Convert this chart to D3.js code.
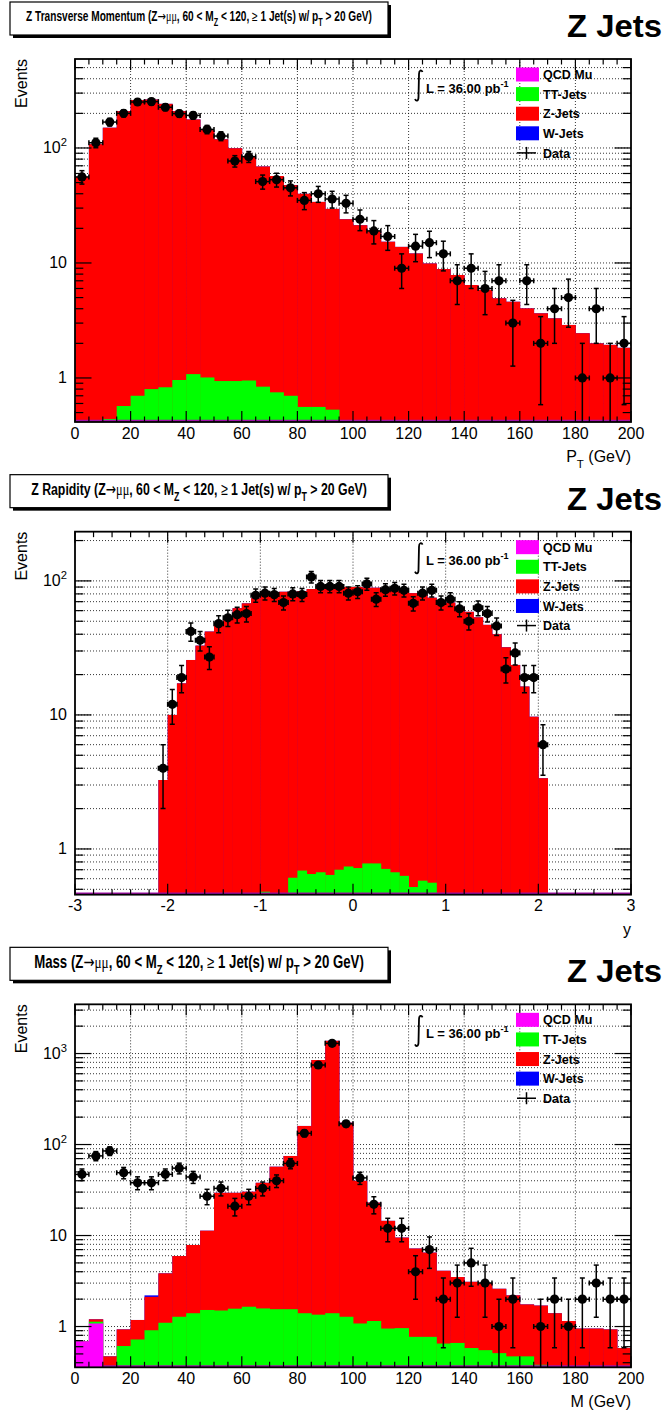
<!DOCTYPE html>
<html>
<head>
<meta charset="utf-8">
<script src="https://cdn.jsdelivr.net/npm/d3@7/dist/d3.min.js"></script>
<style>
  html, body { margin: 0; padding: 0; background: #fff; }
  svg { display: block; }
</style>
</head>
<body>
<svg id="chart" width="664" height="1418"></svg>
<script>
// ---------- Z transverse momentum, 5 GeV bins ----------
const ptBinLow = [0,5,10,15,20,25,30,35,40,45,50,55,60,65,70,75,80,85,90,95,
                  100,105,110,115,120,125,130,135,140,145,150,155,160,165,170,175,180,185,190,195];
const ptData   = [56,111,168,200,251,253,226,199,192,145,127,77,84,51,53,45,35,40,36,33,
                  24,19,17,9,14,15,12,7,9,6,7,3,7,2,4,5,1,4,1,2];
const ptZJets  = [56,108,149.6,208.4,260.3,263.2,241.2,208,175.9,142,118.1,98.6,84.1,68.2,56.3,46.8,39.4,33.4,29,24,
                  21.3,19,15.3,13.8,12.1,9.9,8.85,7.86,6.43,5.83,4.93,4.6,4.03,3.65,3.3,2.89,2.45,2.0,1.94,1.83];
const ptTTJets = [0,0,0.44,0.57,0.70,0.80,0.83,0.96,1.08,1.01,0.94,0.94,0.95,0.84,0.75,0.70,0.56,0.56,0.53,0];
const ptQCDMu  = [];   // no QCD entries in this distribution
const ptWJets  = [];
const ptTicks  = [0,20,40,60,80,100,120,140,160,180,200];

// ---------- Z rapidity, 0.1 bins ----------
const rapBinLow = [-2.1,-2.0,-1.9,-1.8,-1.7,-1.6,-1.5,-1.4,-1.3,-1.2,-1.1,-1.0,-0.9,-0.8,-0.7,-0.6,-0.5,-0.4,-0.3,-0.2,-0.1,
                   0.0,0.1,0.2,0.3,0.4,0.5,0.6,0.7,0.8,0.9,1.0,1.1,1.2,1.3,1.4,1.5,1.6,1.7,1.8,1.9,2.0];
const rapData   = [4,12,19,42,36,27,48,53,56,57,78,81,79,69,80,79,107,91,91,91,81,
                   83,95,73,86,88,85,68,81,85,69,73,62,50,63,57,46,22,29,19,19,6];
const rapZJets  = [3.27,10.0,17.2,25.7,32.9,41.9,48.3,54.2,62.6,68,74.3,80.5,82,83,82.4,83.3,86.3,87.3,87.4,89.3,89.3,
                   89.3,88.2,88.2,87.3,84.0,82.4,80.5,77.9,74.4,72,69,64,58.8,53.5,47,40,32,23.6,16.3,9.7,3.37];
const rapTTJets = [0,0,0,0,0,0,0,0,0,0,0,0.48,0,0,0.61,0.69,0.65,0.67,0.64,0.70,0.74,
                   0.72,0.78,0.78,0.71,0.67,0.63,0.52,0.58,0.56,0];
const rapQCDMu  = [];
const rapWJets  = [];
const rapTicks  = [-3,-2,-1,0,1,2,3];

// ---------- dimuon mass, 5 GeV bins ----------
const massBinLow = [0,5,10,15,20,25,30,35,40,45,50,55,60,65,70,75,80,85,90,95,
                    100,105,110,115,120,125,130,135,140,145,150,155,160,165,170,175,180,185,190,195];
const massData   = [47,75,85,49,38,38,47,55,44,27,33,21,27,33,40,62,133,748,1294,169,
                    43,22,12,12,4,7,2,3,5,3,1,2,0,1,2,1,2,3,2,2];
const massZJets  = [0,0.07,0.47,0.32,0.46,1.21,2.74,4.67,6.47,9.78,28.0,27.9,28.65,36.4,55.5,73.3,158.6,847.6,1378.6,172.7,
                    38.9,21.85,13.55,8.54,6.43,5.73,3.45,2.84,2.52,2.45,2.09,1.73,1.28,1.32,1.4,1.15,0.95,0.95,0.93,0.58];
const massTTJets = [0,0.05,0,0.61,0.72,0.91,1.1,1.28,1.4,1.52,1.5,1.57,1.65,1.58,1.55,1.55,1.4,1.35,1.4,1.28,
                    1.08,1.15,0.95,0.96,0.77,0.77,0.65,0.66,0.58,0.55,0.51,0.47,0.47,0.38,0,0,0,0,0,0];
const massQCDMu  = [0.69,1.08];
const massWJets  = [0,0,0,0,0,0.08];
const massTicks  = [0,20,40,60,80,100,120,140,160,180,200];

// ---------- shared labels ----------
const legendLabels = ['QCD Mu', 'TT-Jets', 'Z-Jets', 'W-Jets', 'Data'];
const stackColors  = ['#ff00ff', '#00ff00', '#ff0000', '#0000ff'];   // bottom -> top
const yTickLabels  = [1, 10, 100, 1000];
const lumiLabel    = 'L = 36.00 pb';
const channelLabel = 'Z Jets';

const cutParts = [
  {t: ' (Z'}, {t: '\u2192', arrow: true}, {t: '\u03bc\u03bc', serif: true},
  {t: ', 60 < M'}, {t: 'Z', sub: true}, {t: ' < 120, '}, {t: '\u2265', plain: true},
  {t: ' 1 Jet(s) w/ p'}, {t: 'T', sub: true}, {t: ' > 20 GeV)'}
];

const panels = [
  { name: 'Z Transverse Momentum', titleSize: 14, titleWidth: 346,
    binLow: ptBinLow, binWidth: 5, data: ptData,
    layers: [ptQCDMu, ptTTJets, ptZJets, ptWJets],
    xDomain: [0, 200], yDomain: [0.414, 594], xTicks: ptTicks, xMinor: 5,
    xTitle: [{t: 'P'}, {t: 'T', sub: true}, {t: ' (GeV)'}] },
  { name: 'Z Rapidity', titleSize: 17, titleWidth: 336,
    binLow: rapBinLow, binWidth: 0.1, data: rapData,
    layers: [rapQCDMu, rapTTJets, rapZJets, rapWJets],
    xDomain: [-3, 3], yDomain: [0.456, 233], xTicks: rapTicks, xMinor: 0.2,
    xTitle: [{t: 'y'}] },
  { name: 'Mass', titleSize: 17.5, titleWidth: 330,
    binLow: massBinLow, binWidth: 5, data: massData,
    layers: [massQCDMu, massTTJets, massZJets, massWJets],
    xDomain: [0, 200], yDomain: [0.356, 3473], xTicks: massTicks, xMinor: 5,
    xTitle: [{t: 'M (GeV)'}] }
];

// ---------- layout ----------
const W = 664, H = 1418, padH = H / 3;
const FL = 75, FR = 631, FT = 59, FB = 422;
const SANS = '"Liberation Sans", Arial, Helvetica, sans-serif';
const SERIF = '"Liberation Serif", "DejaVu Serif", serif';

const svg = d3.select('#chart');
svg.append('rect').attr('width', W).attr('height', H).attr('fill', '#fff');

// writes a run of tspans with sub/superscripts into a text element
function richText(textSel, parts, size) {
  let off = 0;
  parts.forEach(p => {
    const ts = textSel.append('tspan').text(p.t);
    let target = 0;
    if (p.sub) { target = size * 0.38; ts.attr('font-size', size * 0.72); }
    if (p.sup) { target = -size * 0.45; ts.attr('font-size', size * 0.7); }
    if (target !== off) { ts.attr('dy', target - off); off = target; }
    if (p.serif) ts.attr('font-family', SERIF).attr('font-weight', 'normal');
    if (p.plain) ts.attr('font-weight', 'normal');
    if (p.arrow) ts.attr('font-family', '"DejaVu Sans", sans-serif').attr('font-weight', 'normal');
  });
}

// horizontal factor that makes a text element span the given width
function fitWidth(textSel, width) {
  const w = textSel.node().getBBox().width;
  return width / w;
}

panels.forEach((p, pi) => {
  const g = svg.append('g').attr('transform', `translate(0,${pi * padH})`);
  const x = d3.scaleLinear().domain(p.xDomain).range([FL, FR]);
  const y = d3.scaleLog().domain(p.yDomain).range([FB, FT]);
  const ymin = p.yDomain[0];

  const clipId = 'clip' + pi;
  g.append('clipPath').attr('id', clipId)
    .append('rect').attr('x', FL).attr('y', FT).attr('width', FR - FL).attr('height', FB - FT);

  // ---- title box with shadow ----
  g.append('rect').attr('x', 13).attr('y', 5).attr('width', 378).attr('height', 33).attr('fill', '#000');
  g.append('rect').attr('x', 10).attr('y', 2).attr('width', 378).attr('height', 33)
    .attr('fill', '#fff').attr('stroke', '#000').attr('stroke-width', 1.2);
  const tg = g.append('g');
  const tt = tg.append('text').attr('text-anchor', 'middle')
    .attr('font-family', SANS).attr('font-weight', 'bold').attr('font-size', p.titleSize);
  richText(tt, [{t: p.name}].concat(cutParts), p.titleSize);
  const sx = fitWidth(tt, p.titleWidth);
  tg.attr('transform', `translate(199,${16 + p.titleSize * 0.36}) scale(${sx},1)`);

  // ---- channel label ----
  const cg = g.append('g');
  const ct = cg.append('text').attr('text-anchor', 'end')
    .attr('font-family', SANS).attr('font-weight', 'bold').attr('font-size', 32).text(channelLabel);
  cg.attr('transform', `translate(662,37) scale(${fitWidth(ct, 95)},1)`);

  // ---- grid ----
  const grid = g.append('g').attr('stroke', '#000').attr('stroke-width', 0.8)
    .attr('stroke-dasharray', '1,2');
  p.xTicks.filter(v => v > p.xDomain[0] && v < p.xDomain[1]).forEach(v => {
    grid.append('line').attr('x1', x(v)).attr('x2', x(v)).attr('y1', FT).attr('y2', FB);
  });
  const yt = y.ticks().filter(v => v > ymin && v < p.yDomain[1]);
  yt.forEach(v => {
    grid.append('line').attr('x1', FL).attr('x2', FR).attr('y1', y(v)).attr('y2', y(v));
  });

  // ---- stacked histograms: cumulative sums, drawn from the top layer down ----
  const cum = [];
  let run = p.binLow.map(() => 0);
  p.layers.forEach(arr => {
    run = run.map((r, i) => r + (arr[i] || 0));
    cum.push(run.slice());
  });
  const hist = g.append('g').attr('clip-path', `url(#${clipId})`);
  const drawLayer = li => {
    const rows = p.binLow.map((lo, i) => ({lo, v: cum[li][i], own: p.layers[li][i] || 0}))
      .filter(d => d.v > ymin && (li > 0 || d.own > 0));
    hist.append('g').selectAll('rect').data(rows).join('rect')
      .attr('x', d => x(d.lo))
      .attr('width', d => x(d.lo + p.binWidth) - x(d.lo) + 0.4)
      .attr('y', d => y(d.v))
      .attr('height', d => FB - y(d.v))
      .attr('fill', stackColors[li]);
  };
  for (let li = p.layers.length - 1; li >= 1; li--) drawLayer(li);
  // outline of the lowest (empty) component along the floor
  hist.append('line').attr('x1', FL).attr('x2', FR).attr('y1', FB - 1.2).attr('y2', FB - 1.2)
    .attr('stroke', '#a010a8').attr('stroke-width', 2);
  drawLayer(0);

  // ---- data points with Poisson errors ----
  const pts = p.binLow.map((lo, i) => ({lo, c: lo + p.binWidth / 2, v: p.data[i]})).filter(d => d.v > 0);
  const dg = g.append('g').attr('clip-path', `url(#${clipId})`)
    .attr('stroke', '#000').attr('stroke-width', 1.5).attr('fill', '#000');
  pts.forEach(d => {
    const e = Math.sqrt(d.v);
    const lo = d.v - e, hi = d.v + e;
    const yHi = y(hi), yLo = lo > ymin ? y(lo) : FB + 5;
    const cx = x(d.c), cy = y(d.v);
    dg.append('line').attr('x1', cx).attr('x2', cx).attr('y1', yHi).attr('y2', yLo);
    dg.append('line').attr('x1', cx - 2.5).attr('x2', cx + 2.5).attr('y1', yHi).attr('y2', yHi);
    if (lo > ymin) dg.append('line').attr('x1', cx - 2.5).attr('x2', cx + 2.5).attr('y1', yLo).attr('y2', yLo);
    const xl = x(d.lo), xr = x(d.lo + p.binWidth);
    dg.append('line').attr('x1', xl).attr('x2', xr).attr('y1', cy).attr('y2', cy);
    dg.append('line').attr('x1', xl).attr('x2', xl).attr('y1', cy - 2.5).attr('y2', cy + 2.5);
    dg.append('line').attr('x1', xr).attr('x2', xr).attr('y1', cy - 2.5).attr('y2', cy + 2.5);
    dg.append('circle').attr('cx', cx).attr('cy', cy).attr('r', 4.6).attr('stroke', 'none');
  });

  // ---- axes: ticks on all four sides ----
  const ax = g.append('g').attr('stroke', '#000').attr('stroke-width', 1.2);
  const minorX = d3.range(p.xDomain[0], p.xDomain[1] + 1e-9, p.xMinor);
  minorX.forEach(v => {
    const major = p.xTicks.some(t => Math.abs(t - v) < 1e-6);
    const len = major ? 11 : 5.5;
    ax.append('line').attr('x1', x(v)).attr('x2', x(v)).attr('y1', FB).attr('y2', FB - len);
    ax.append('line').attr('x1', x(v)).attr('x2', x(v)).attr('y1', FT).attr('y2', FT + len);
  });
  yt.forEach(v => {
    const major = Math.abs(Math.log10(v) - Math.round(Math.log10(v))) < 1e-6;
    const len = major ? 16.5 : 8.3;
    ax.append('line').attr('x1', FL).attr('x2', FL + len).attr('y1', y(v)).attr('y2', y(v));
    ax.append('line').attr('x1', FR).attr('x2', FR - len).attr('y1', y(v)).attr('y2', y(v));
  });
  g.append('rect').attr('x', FL).attr('y', FT).attr('width', FR - FL).attr('height', FB - FT)
    .attr('fill', 'none').attr('stroke', '#000').attr('stroke-width', 1.8);

  // tick labels
  const lab = g.append('g').attr('font-family', SANS).attr('font-size', 16).attr('fill', '#000');
  p.xTicks.forEach(v => {
    lab.append('text').attr('x', x(v)).attr('y', 438.5).attr('text-anchor', 'middle').text(v);
  });
  yTickLabels.filter(v => v > ymin && v < p.yDomain[1]).forEach(v => {
    const t = lab.append('text').attr('x', 67).attr('y', y(v) + 5.5).attr('text-anchor', 'end');
    if (v < 100) t.text(v);
    else richText(t, [{t: '10'}, {t: String(Math.round(Math.log10(v))), sup: true}], 16);
  });

  // axis titles
  const xt = lab.append('text').attr('x', FR).attr('y', 462).attr('text-anchor', 'end');
  richText(xt, p.xTitle, 16);
  lab.append('text').attr('transform', `translate(27,${FT}) rotate(-90)`)
    .attr('text-anchor', 'end').text('Events');

  // ---- legend ----
  const lg = g.append('g').attr('font-family', SANS).attr('font-weight', 'bold').attr('font-size', 12.5);
  legendLabels.forEach((name, i) => {
    const cy = 74.5 + 19.6 * i;
    if (i < 4) {
      lg.append('rect').attr('x', 516).attr('y', cy - 7).attr('width', 23).attr('height', 14)
        .attr('fill', stackColors[i]);
    } else {
      lg.append('line').attr('x1', 517).attr('x2', 536).attr('y1', cy).attr('y2', cy)
        .attr('stroke', '#000').attr('stroke-width', 1.5);
      lg.append('line').attr('x1', 526.5).attr('x2', 526.5).attr('y1', cy - 6).attr('y2', cy + 6)
        .attr('stroke', '#000').attr('stroke-width', 1.5);
    }
    lg.append('text').attr('x', 543).attr('y', cy + 4.6).text(name);
  });

  // ---- integrated luminosity ----
  g.append('path')
    .attr('d', 'M422.5,72 C421.5,69.5 419,70 419,74 L418.5,97 C418.5,101.5 416,101.5 415,99')
    .attr('fill', 'none').attr('stroke', '#000').attr('stroke-width', 1.8);
  const lt = g.append('text').attr('x', 426).attr('y', 92.5)
    .attr('font-family', SANS).attr('font-weight', 'bold').attr('font-size', 13);
  richText(lt, [{t: lumiLabel}, {t: '-1', sup: true}], 13);
});
</script>
</body>
</html>
